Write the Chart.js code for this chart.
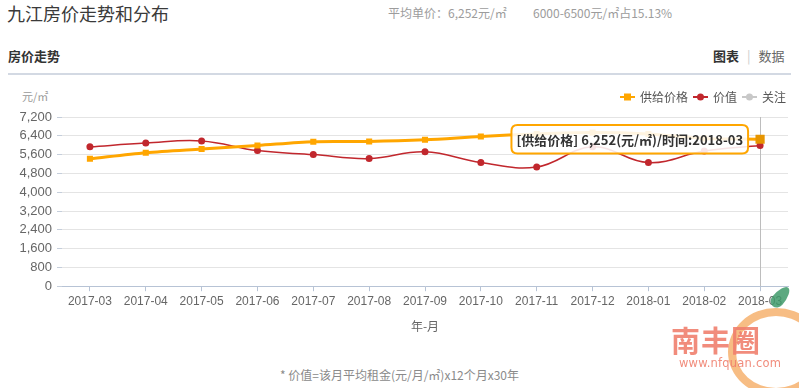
<!DOCTYPE html>
<html>
<head>
<meta charset="utf-8">
<script src="https://cdn.jsdelivr.net/npm/chart.js@4.4.1/dist/chart.umd.min.js"></script>
<style>
  body { margin: 0; background: #fff; width: 799px; height: 388px; overflow: hidden; position: relative;
         font-family: "Noto Sans CJK SC", "Noto Sans", sans-serif; }
  .abs { position: absolute; white-space: nowrap; }
  #title { left: 7px; top: 1px; font-size: 18px; color: #3a3a3a; line-height: 24px; }
  #avg { left: 388px; top: 4px; font-size: 12px; color: #9c9c9c; line-height: 18px; }
  #share { left: 533px; top: 4px; font-size: 12px; color: #9c9c9c; line-height: 18px; }
  #sub { left: 8px; top: 47px; font-size: 13px; font-weight: bold; color: #333; line-height: 18px; }
  #tabs { left: 713px; top: 47px; font-size: 13px; color: #666; line-height: 18px; }
  #tabs b { color: #333; }
  #tabs span { color: #ccc; margin: 0 8px; }
  #sep { left: 8px; top: 73px; width: 783px; height: 2px; background: #d3d9e3; }
  #unit { left: 22px; top: 88px; font-size: 11px; color: #999; line-height: 16px; }
  #note { left: 0; width: 799px; text-align: center; top: 366px; font-size: 12px; color: #8a8a8a; line-height: 18px; }
  #chart { position: absolute; left: 0; top: 80px; }
  .wm { position: absolute; pointer-events: none; }
  #ring { left: 728px; top: 308px; width: 96px; height: 88px; border-radius: 50%;
          border: 8px solid rgba(246, 178, 110, 0.85); box-sizing: border-box; }
  #leaf { left: 774px; top: 285px; width: 13px; height: 24px; border-radius: 50% 50% 50% 50% / 70% 70% 30% 30%;
          background: rgba(63, 154, 106, 0.85); transform: rotate(40deg); }
  #brand { left: 671px; top: 323px; font-size: 29px; font-weight: bold; color: rgba(239, 127, 110, 0.9); line-height: 32px; letter-spacing: 1px; }
  #url { left: 679px; top: 356px; font-size: 11.5px; color: rgba(239, 127, 110, 0.9); font-family: "DejaVu Sans", sans-serif; letter-spacing: 0.2px; }
</style>
</head>
<body>
<div id="title" class="abs">九江房价走势和分布</div>
<div id="avg" class="abs">平均单价：6,252元/㎡</div>
<div id="share" class="abs">6000-6500元/㎡占15.13%</div>
<div id="sub" class="abs">房价走势</div>
<div id="tabs" class="abs"><b>图表</b><span>|</span>数据</div>
<div id="sep" class="abs"></div>
<div id="unit" class="abs">元/㎡</div>
<canvas id="chart" width="799" height="260"></canvas>
<div id="note" class="abs">* 价值=该月平均租金(元/月/㎡)x12个月x30年</div>
<div id="ring" class="wm"></div>
<div id="leaf" class="wm"></div>
<div id="brand" class="wm">南丰圈</div>
<div id="url" class="wm">www.nfquan.com</div>

<script>
// Chart data
const months = ['2017-03', '2017-04', '2017-05', '2017-06', '2017-07', '2017-08', '2017-09',
                '2017-10', '2017-11', '2017-12', '2018-01', '2018-02', '2018-03'];
const supplyPrice = [5420, 5680, 5840, 5990, 6150, 6160, 6230, 6370, 6480, 6540, 6480, 6290, 6252];
const valuePrice = [5930, 6090, 6180, 5770, 5600, 5430, 5720, 5260, 5070, 5930, 5260, 5750, 5990];
const attention = [];
const yTicks = { min: 0, max: 7200, step: 800 };

const seriesNames = ['供给价格', '价值', '关注'];
const seriesColors = ['#ffa600', '#c1272d', '#c8c8c8'];
const activePoint = { datasetIndex: 0, index: 12 };

function fmt(n) {
    return n.toLocaleString('en-US');
}

// Legend drawn on the canvas: line + marker, right aligned
const legendPlugin = {
    id: 'rightLegend',
    afterDraw(chart) {
        const ctx = chart.ctx;
        const y = chart.chartArea.top - 20;
        let x = 786;
        ctx.save();
        ctx.font = '12px "Noto Sans CJK SC", sans-serif';
        ctx.textBaseline = 'middle';
        for (let i = chart.data.datasets.length - 1; i >= 0; i--) {
            const ds = chart.data.datasets[i];
            const w = ctx.measureText(ds.label).width;
            ctx.fillStyle = '#555';
            ctx.fillText(ds.label, x - w, y);
            const right = x - w - 5;
            const left = right - 15;
            ctx.strokeStyle = ds.borderColor;
            ctx.fillStyle = ds.borderColor;
            ctx.lineWidth = 2;
            ctx.beginPath();
            ctx.moveTo(left, y);
            ctx.lineTo(right, y);
            ctx.stroke();
            const cx = (left + right) / 2;
            if (ds.pointStyle === 'rect') {
                ctx.fillRect(cx - 3.5, y - 3.5, 7, 7);
            } else {
                ctx.beginPath();
                ctx.arc(cx, y, 3.5, 0, Math.PI * 2);
                ctx.fill();
            }
            x = left - 5;
        }
        ctx.restore();
    }
};

// Vertical pointer line at the active category
const crosshairPlugin = {
    id: 'crosshair',
    beforeDatasetsDraw(chart) {
        const active = chart.tooltip && chart.tooltip.getActiveElements();
        if (!active || !active.length) return;
        const x = active[0].element.x;
        const { top, bottom } = chart.chartArea;
        const ctx = chart.ctx;
        ctx.save();
        ctx.strokeStyle = '#bdbdbd';
        ctx.lineWidth = 1;
        ctx.beginPath();
        ctx.moveTo(Math.round(x) + 0.5, top);
        ctx.lineTo(Math.round(x) + 0.5, bottom);
        ctx.stroke();
        ctx.restore();
    }
};

function initializeChart() {
    const ctx = document.getElementById('chart').getContext('2d');
    const chart = new Chart(ctx, {
        type: 'line',
        data: {
            labels: months,
            datasets: [{
                label: seriesNames[0],
                data: supplyPrice,
                borderColor: seriesColors[0],
                backgroundColor: seriesColors[0],
                borderWidth: 3,
                pointStyle: 'rect',
                pointRadius: 4.3,
                pointHoverRadius: 6.5,
                pointBorderWidth: 0,
                pointHoverBorderWidth: 0,
                tension: 0.3,
                order: 0
            }, {
                label: seriesNames[1],
                data: valuePrice,
                borderColor: seriesColors[1],
                backgroundColor: seriesColors[1],
                borderWidth: 1.5,
                pointStyle: 'circle',
                pointRadius: 3.5,
                pointHoverRadius: 3.5,
                pointBorderWidth: 0,
                tension: 0.4,
                order: 1
            }, {
                label: seriesNames[2],
                data: attention,
                borderColor: seriesColors[2],
                backgroundColor: seriesColors[2],
                borderWidth: 2,
                pointStyle: 'circle',
                pointRadius: 3,
                order: 2
            }]
        },
        options: {
            responsive: false,
            animation: false,
            events: [],
            layout: { padding: { left: 0, right: 11, top: 37, bottom: 6 } },
            scales: {
                x: {
                    offset: true,
                    grid: { offset: false, drawOnChartArea: false, tickLength: 5, color: '#b7c3d5' },
                    border: { color: '#b7c3d5' },
                    ticks: {
                        color: '#666', padding: 3, maxRotation: 0, autoSkip: false,
                        font: { size: 12, family: '"Liberation Sans", Arial, sans-serif' }
                    },
                    title: {
                        display: true, text: '年-月', color: '#666',
                        font: { size: 12, family: '"Noto Sans CJK SC", sans-serif' },
                        padding: { top: 8, bottom: 0 }
                    }
                },
                y: {
                    min: yTicks.min,
                    max: yTicks.max,
                    afterFit(scale) { scale.width = 62; },
                    grid: { color: '#e4e4e4', tickLength: 5, tickColor: '#c5cedb' },
                    border: { display: false },
                    ticks: {
                        stepSize: yTicks.step, autoSkip: false, color: '#666', padding: 5,
                        font: { size: 13, family: '"Liberation Sans", Arial, sans-serif' },
                        callback: v => fmt(v)
                    }
                }
            },
            plugins: {
                legend: { display: false },
                tooltip: {
                    backgroundColor: 'rgba(255,255,255,0.88)',
                    borderColor: seriesColors[0],
                    borderWidth: 2,
                    cornerRadius: 6,
                    displayColors: false,
                    xAlign: 'right',
                    yAlign: 'center',
                    caretSize: 0,
                    caretPadding: 12,
                    padding: { left: 5, right: 5, top: 7, bottom: 6 },
                    bodyColor: '#333',
                    bodyFont: { size: 13, weight: 'bold', family: '"Noto Sans CJK SC", sans-serif' },
                    callbacks: {
                        title: () => '',
                        label: c => `[${c.dataset.label}] ${fmt(c.raw)}(元/㎡)/时间:${c.label}`
                    }
                }
            }
        },
        plugins: [legendPlugin, crosshairPlugin]
    });

    // Show the hovered state of the last supply price point
    const pt = chart.getDatasetMeta(activePoint.datasetIndex).data[activePoint.index];
    chart.setActiveElements([activePoint]);
    chart.tooltip.setActiveElements([activePoint], { x: pt.x, y: pt.y });
    chart.update();
}

document.addEventListener('DOMContentLoaded', initializeChart);
</script>
</body>
</html>
